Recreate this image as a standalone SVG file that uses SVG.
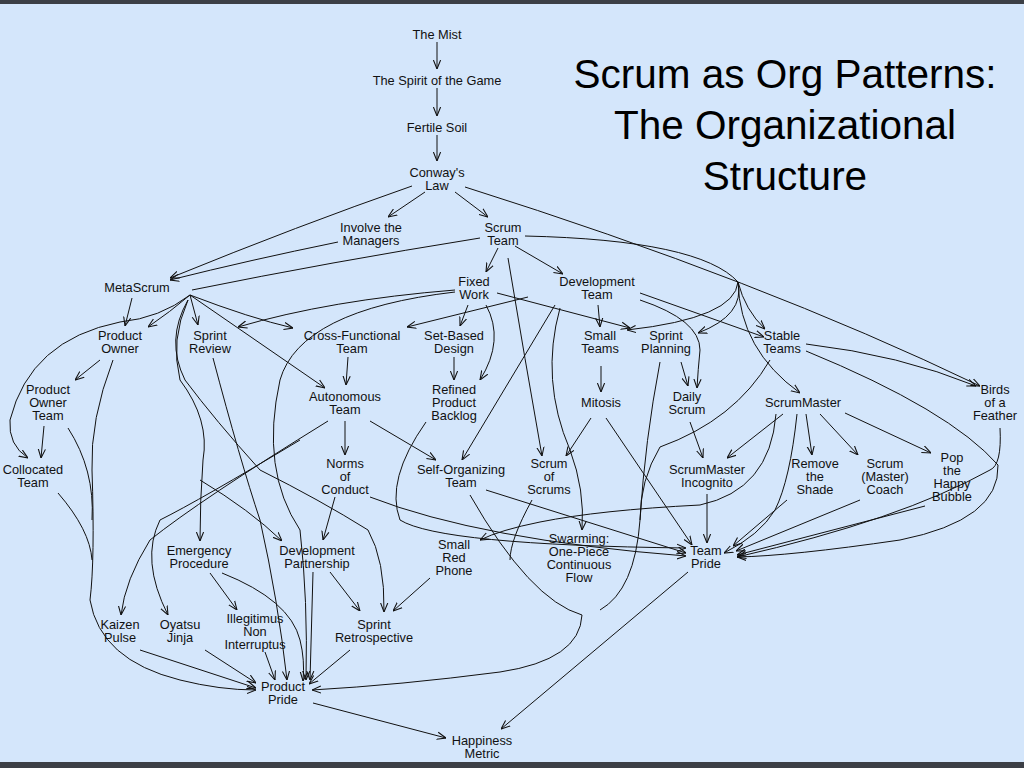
<svg xmlns="http://www.w3.org/2000/svg" width="1024" height="768" viewBox="0 0 1024 768">
<defs>
<marker id="a" viewBox="0 0 10 10" refX="10" refY="5" markerWidth="9" markerHeight="9" orient="auto" markerUnits="userSpaceOnUse"><path d="M0,1 L10,5 L0,9" fill="none" stroke="#111" stroke-width="1.2"/></marker>
<style>
text{font-family:"Liberation Sans",Arial,sans-serif;font-size:12.8px;fill:#111;text-anchor:middle}
.t{font-size:40.5px;fill:#000}
#edges path{fill:none;stroke:#111;stroke-width:1}
#edges .m{marker-end:url(#a)}
</style>
</defs>
<rect width="1024" height="768" fill="#d4e6fb"/>
<rect width="1024" height="4" fill="#3c3f46"/>
<rect y="762" width="1024" height="6" fill="#3c3f46"/>
<g id="title"><text class="t" x="785" y="88">Scrum as Org Patterns:</text><text class="t" x="785" y="139">The Organizational</text><text class="t" x="785" y="190">Structure</text></g>
<g id="edges">
<path class="m" d="M437,42 L437,69"/>
<path class="m" d="M437,88 L437,116"/>
<path class="m" d="M437,135 L437,161"/>
<path class="m" d="M425,192 L388,217"/>
<path class="m" d="M455,192 L488,217"/>
<path class="m" d="M412,186 Q300,225 170,278"/>
<path class="m" d="M338,242 Q250,260 170,280"/>
<path d="M480,238 Q330,262 192,290"/>
<path class="m" d="M465,187 Q760,280 980,386"/>
<path class="m" d="M498,248 L486,272"/>
<path class="m" d="M515,246 L563,274"/>
<path class="m" d="M508,258 Q525,360 542,456"/>
<path d="M525,236 Q700,240 738,282"/>
<path class="m" d="M738,282 Q745,315 698,333"/>
<path class="m" d="M738,282 Q735,318 627,330"/>
<path class="m" d="M738,282 Q745,310 765,329"/>
<path class="m" d="M738,282 Q740,350 800,393"/>
<path class="m" d="M132,298 L125,326"/>
<path class="m" d="M190,295 Q170,312 148,327"/>
<path class="m" d="M190,295 L198,325"/>
<path class="m" d="M190,295 Q250,318 293,328"/>
<path class="m" d="M190,295 L325,388"/>
<path class="m" d="M190,295 Q160,318 120,322 Q30,340 10,420 Q8,445 28,458"/>
<path class="m" d="M188,300 Q170,340 180,380 Q210,420 203,460 Q200,500 200,541"/>
<path class="m" d="M200,480 Q250,510 282,541"/>
<path class="m" d="M188,300 Q165,340 185,380 Q215,420 260,470 Q320,500 368,530 Q385,560 384,612"/>
<path class="m" d="M455,290 Q330,300 238,327"/>
<path class="m" d="M468,305 L460,326"/>
<path class="m" d="M486,305 Q505,340 480,380"/>
<path class="m" d="M497,293 L630,328"/>
<path class="m" d="M455,292 Q300,310 280,380 Q260,470 300,530 Q308,600 306,680"/>
<path class="m" d="M528,297 L407,327"/>
<path class="m" d="M598,305 L600,327"/>
<path class="m" d="M555,305 L462,460"/>
<path class="m" d="M640,293 L764,337"/>
<path class="m" d="M640,300 Q700,320 700,350 Q698,370 697,388"/>
<path class="m" d="M560,308 Q540,380 570,450 Q585,490 582,530"/>
<path class="m" d="M454,357 L454,380"/>
<path class="m" d="M348,357 L346,385"/>
<path class="m" d="M100,360 L75,380"/>
<path d="M113,360 Q90,420 92,470 Q95,560 90,600 Q100,660 180,680"/>
<path class="m" d="M180,680 Q220,690 256,690"/>
<path class="m" d="M44,426 L41,458"/>
<path d="M68,428 Q95,470 92,520"/>
<path d="M58,493 Q90,530 92,560"/>
<path class="m" d="M213,358 Q240,460 260,520 Q278,600 287,680"/>
<path class="m" d="M345,421 L345,455"/>
<path class="m" d="M370,421 L436,460"/>
<path class="m" d="M328,421 Q200,500 150,540 Q125,580 121,615"/>
<path class="m" d="M300,440 Q200,500 160,520 Q140,560 168,615"/>
<path class="m" d="M335,497 L323,540"/>
<path class="m" d="M370,497 Q480,540 686,556"/>
<path class="m" d="M426,422 Q385,480 400,520 Q440,545 686,548"/>
<path class="m" d="M486,490 L686,553"/>
<path class="m" d="M470,495 Q530,600 582,615 Q580,660 500,672 Q400,685 312,690"/>
<path class="m" d="M601,366 L601,392"/>
<path class="m" d="M591,418 L566,456"/>
<path class="m" d="M606,418 L692,545"/>
<path d="M532,500 Q510,540 510,560"/>
<path class="m" d="M776,414 Q770,490 700,505 Q600,510 540,522 Q500,530 480,540"/>
<path class="m" d="M681,362 L688,386"/>
<path d="M660,362 Q645,440 640,520 Q635,590 600,610"/>
<path d="M770,360 Q735,420 660,447 Q640,480 640,520"/>
<path class="m" d="M690,422 L703,458"/>
<path class="m" d="M707,494 L707,543"/>
<path class="m" d="M783,414 L727,458"/>
<path class="m" d="M806,414 L812,455"/>
<path class="m" d="M820,414 L858,455"/>
<path class="m" d="M845,413 L931,453"/>
<path class="m" d="M797,414 Q790,480 775,510 Q760,535 724,553"/>
<path class="m" d="M787,500 L733,546"/>
<path class="m" d="M860,500 L736,551"/>
<path class="m" d="M925,506 L737,555"/>
<path class="m" d="M1000,428 Q1002,465 990,470 Q900,520 737,557"/>
<path class="m" d="M806,344 Q900,355 976,386"/>
<path class="m" d="M806,351 Q950,410 998,465 Q1000,520 900,540 Q790,556 737,557"/>
<path class="m" d="M210,573 L237,610"/>
<path class="m" d="M222,573 Q290,600 300,640 Q305,660 303,681"/>
<path class="m" d="M330,572 L360,611"/>
<path class="m" d="M313,572 L310,680"/>
<path class="m" d="M430,578 L393,611"/>
<path class="m" d="M140,650 L256,688"/>
<path class="m" d="M205,650 L256,683"/>
<path class="m" d="M265,652 L275,680"/>
<path class="m" d="M350,650 L309,684"/>
<path class="m" d="M313,703 L446,738"/>
<path class="m" d="M688,572 L501,729"/>
</g>
<g id="n1"><text x="437" y="39">The Mist</text></g>
<g id="n2"><text x="437" y="85">The Spirit of the Game</text></g>
<g id="n3"><text x="437" y="132">Fertile Soil</text></g>
<g id="n4"><text x="437" y="177">Conway's<tspan x="437" dy="13">Law</tspan></text></g>
<g id="n5"><text x="371" y="232">Involve the<tspan x="371" dy="13">Managers</tspan></text></g>
<g id="n6"><text x="503" y="232">Scrum<tspan x="503" dy="13">Team</tspan></text></g>
<g id="n7"><text x="137" y="292">MetaScrum</text></g>
<g id="n8"><text x="474" y="286">Fixed<tspan x="474" dy="13">Work</tspan></text></g>
<g id="n9"><text x="597" y="286">Development<tspan x="597" dy="13">Team</tspan></text></g>
<g id="n10"><text x="120" y="340">Product<tspan x="120" dy="13">Owner</tspan></text></g>
<g id="n11"><text x="210" y="340">Sprint<tspan x="210" dy="13">Review</tspan></text></g>
<g id="n12"><text x="352" y="340">Cross-Functional<tspan x="352" dy="13">Team</tspan></text></g>
<g id="n13"><text x="454" y="340">Set-Based<tspan x="454" dy="13">Design</tspan></text></g>
<g id="n14"><text x="600" y="340">Small<tspan x="600" dy="13">Teams</tspan></text></g>
<g id="n15"><text x="666" y="340">Sprint<tspan x="666" dy="13">Planning</tspan></text></g>
<g id="n16"><text x="782" y="340">Stable<tspan x="782" dy="13">Teams</tspan></text></g>
<g id="n17"><text x="48" y="394">Product<tspan x="48" dy="13">Owner</tspan><tspan x="48" dy="13">Team</tspan></text></g>
<g id="n18"><text x="345" y="401">Autonomous<tspan x="345" dy="13">Team</tspan></text></g>
<g id="n19"><text x="454" y="394">Refined<tspan x="454" dy="13">Product</tspan><tspan x="454" dy="13">Backlog</tspan></text></g>
<g id="n20"><text x="601" y="407">Mitosis</text></g>
<g id="n21"><text x="687" y="401">Daily<tspan x="687" dy="13">Scrum</tspan></text></g>
<g id="n22"><text x="803" y="407">ScrumMaster</text></g>
<g id="n23"><text x="995" y="394">Birds<tspan x="995" dy="13">of a</tspan><tspan x="995" dy="13">Feather</tspan></text></g>
<g id="n24"><text x="33" y="474">Collocated<tspan x="33" dy="13">Team</tspan></text></g>
<g id="n25"><text x="345" y="468">Norms<tspan x="345" dy="13">of</tspan><tspan x="345" dy="13">Conduct</tspan></text></g>
<g id="n26"><text x="461" y="474">Self-Organizing<tspan x="461" dy="13">Team</tspan></text></g>
<g id="n27"><text x="549" y="468">Scrum<tspan x="549" dy="13">of</tspan><tspan x="549" dy="13">Scrums</tspan></text></g>
<g id="n28"><text x="707" y="474">ScrumMaster<tspan x="707" dy="13">Incognito</tspan></text></g>
<g id="n29"><text x="815" y="468">Remove<tspan x="815" dy="13">the</tspan><tspan x="815" dy="13">Shade</tspan></text></g>
<g id="n30"><text x="885" y="468">Scrum<tspan x="885" dy="13">(Master)</tspan><tspan x="885" dy="13">Coach</tspan></text></g>
<g id="n31"><text x="952" y="462">Pop<tspan x="952" dy="13">the</tspan><tspan x="952" dy="13">Happy</tspan><tspan x="952" dy="13">Bubble</tspan></text></g>
<g id="n32"><text x="199" y="555">Emergency<tspan x="199" dy="13">Procedure</tspan></text></g>
<g id="n33"><text x="317" y="555">Development<tspan x="317" dy="13">Partnership</tspan></text></g>
<g id="n34"><text x="454" y="549">Small<tspan x="454" dy="13">Red</tspan><tspan x="454" dy="13">Phone</tspan></text></g>
<g id="n35"><text x="579" y="543">Swarming:<tspan x="579" dy="13">One-Piece</tspan><tspan x="579" dy="13">Continuous</tspan><tspan x="579" dy="13">Flow</tspan></text></g>
<g id="n36"><text x="706" y="555">Team<tspan x="706" dy="13">Pride</tspan></text></g>
<g id="n37"><text x="120" y="629">Kaizen<tspan x="120" dy="13">Pulse</tspan></text></g>
<g id="n38"><text x="180" y="629">Oyatsu<tspan x="180" dy="13">Jinja</tspan></text></g>
<g id="n39"><text x="255" y="623">Illegitimus<tspan x="255" dy="13">Non</tspan><tspan x="255" dy="13">Interruptus</tspan></text></g>
<g id="n40"><text x="374" y="629">Sprint<tspan x="374" dy="13">Retrospective</tspan></text></g>
<g id="n41"><text x="283" y="691">Product<tspan x="283" dy="13">Pride</tspan></text></g>
<g id="n42"><text x="482" y="745">Happiness<tspan x="482" dy="13">Metric</tspan></text></g>
</svg>
